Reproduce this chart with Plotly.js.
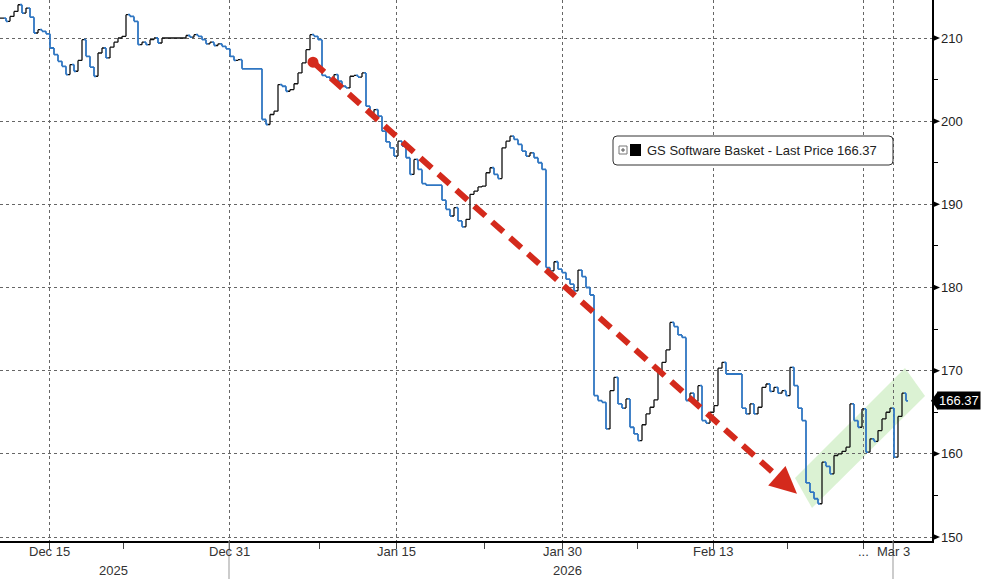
<!DOCTYPE html>
<html><head><meta charset="utf-8">
<script src="https://cdn.plot.ly/plotly-3.0.1.min.js"></script>
<style>html,body{margin:0;padding:0;background:#fff}#chart{width:982px;height:579px}</style>
</head><body><div id="chart"></div>
<script>
// ---------- data ----------
const seriesName = "GS Software Basket - Last Price";
const lastPrice = 166.37;
const closes = [
 212.4,212.0,212.6,213.2,214.0,213.0,213.6,212.5,210.6,211.0,
 210.8,210.5,208.8,208.0,207.2,206.6,205.6,206.8,206.0,207.3,
 209.8,207.8,206.5,205.4,208.2,208.8,207.6,208.9,209.5,210.0,
 210.2,212.8,212.6,212.0,209.2,209.5,209.2,209.8,210.0,209.4,
 210.0,210.0,210.0,210.0,210.0,210.0,210.3,210.1,210.4,210.2,
 209.8,209.3,209.5,209.1,209.3,209.0,208.7,207.8,207.3,207.4,
 206.3,206.3,206.3,206.3,206.3,200.2,199.6,200.8,201.2,204.4,
 204.2,203.6,203.8,204.5,205.8,207.0,208.6,210.4,210.2,209.8,
 205.5,205.3,205.0,205.6,204.8,204.2,204.0,205.4,205.5,205.3,
 205.8,201.8,201.0,201.4,200.6,198.8,197.5,196.8,195.8,197.6,
 197.0,195.6,193.6,195.4,194.2,192.5,192.3,192.3,192.3,192.3,
 190.5,189.4,188.6,189.6,188.0,187.3,188.2,191.2,191.6,192.1,
 192.2,193.8,194.4,193.6,193.1,196.8,197.6,198.2,197.8,197.2,
 196.4,195.8,196.2,195.6,195.0,194.2,182.4,182.0,183.1,182.2,
 181.8,181.0,180.4,179.6,182.1,181.3,180.0,179.1,167.0,166.4,
 166.2,163.0,167.6,169.2,166.0,165.5,166.6,163.2,162.4,161.6,
 163.5,164.8,165.6,166.5,170.0,171.0,172.5,175.8,175.3,174.3,
 174.0,166.4,167.3,166.3,168.2,164.0,163.7,165.0,165.8,170.3,
 171.0,169.6,169.6,169.6,169.6,165.5,164.8,166.0,164.8,165.6,
 168.0,168.4,167.5,168.0,167.3,167.6,167.0,170.4,168.2,165.5,
 164.0,156.5,155.4,154.6,154.0,159.0,158.5,157.6,159.8,160.0,
 160.3,160.8,166.0,164.0,163.2,165.4,160.2,161.8,161.5,162.8,
 164.2,165.0,165.5,159.6,164.5,167.3,166.37
];
const xTickPos  = [11.75, 56.75, 98.5, 140, 177.75, 215.25, 222.75];
const xTickText = ["Dec 15","Dec 31","Jan 15","Jan 30","Feb 13","...","Mar 3"];
const xMinorPos = [30.25, 79.25, 120.5, 158.75, 196.25];
const yearText  = ["2025","2026"];
const yearPos   = [27.75, 141.25];
const yearBreaks = [56.75, 222.75];
const yTickVals = [150,160,170,180,190,200,210];
const yMinorVals = [155,165,175,185,195,205];
const trendStart = [77.75, 207.1];
const trendEnd   = [198.75, 155.2];
const channelX = [198.25, 202.5, 230.75, 225.75];
const channelY = [157.1, 153.49, 166.95, 170.32];

// ---------- geometry helpers ----------
const W = 932, H = 541;
const xr = [-0.5, 232.5], yr = [149.52, 214.57];
const toPx = (x,y)=>[(x-xr[0])/(xr[1]-xr[0])*W, H-(y-yr[0])/(yr[1]-yr[0])*H];
const toData = (px,py)=>[xr[0]+px/W*(xr[1]-xr[0]), yr[0]+(H-py)/H*(yr[1]-yr[0])];
const pp = (px,py)=>[px/W, 1-py/H];

const idx = closes.map((_,i)=>i);
const opens = closes.map((c,i)=> i===0 ? c : closes[i-1]);
const highs = closes.map((c,i)=> Math.max(c, opens[i]));
const lows  = closes.map((c,i)=> Math.min(c, opens[i]));

const red = '#d42a1c';
const blue = '#2f76c2';

const traces = [{
  type:'ohlc', x:idx, open:opens, high:highs, low:lows, close:closes,
  increasing:{line:{color:'#111', width:1.3}},
  decreasing:{line:{color:blue, width:1.8}},
  tickwidth:0.5, hoverinfo:'skip', name:seriesName
}];

const shapes = [];
shapes.push({type:'path', xref:'x', yref:'y', layer:'below',
  path: channelX.map((x,i)=>(i?'L':'M')+x+','+channelY[i]).join(' ')+' Z',
  fillcolor:'rgba(160,220,140,0.38)', line:{width:0}});

const S = toPx(trendStart[0], trendStart[1]);
const T = toPx(trendEnd[0], trendEnd[1]);
const len = Math.hypot(T[0]-S[0], T[1]-S[1]);
const u = [(T[0]-S[0])/len, (T[1]-S[1])/len];
const n = [-u[1], u[0]];
const headLen = 27, headHalf = 13;
const B = [T[0]-u[0]*headLen, T[1]-u[1]*headLen];
const sD = toData(S[0],S[1]), bD = toData(B[0]+u[0]*3, B[1]+u[1]*3);
shapes.push({type:'line', xref:'x', yref:'y', x0:sD[0], y0:sD[1], x1:bD[0], y1:bD[1],
  line:{color:red, width:6, dash:'15px,9px'}});
const h1 = toData(T[0],T[1]), h2 = toData(B[0]+n[0]*headHalf, B[1]+n[1]*headHalf), h3 = toData(B[0]-n[0]*headHalf, B[1]-n[1]*headHalf);
shapes.push({type:'path', xref:'x', yref:'y', path:`M${h1[0]},${h1[1]} L${h2[0]},${h2[1]} L${h3[0]},${h3[1]} Z`,
  fillcolor:red, line:{width:0}});
const c0 = toData(S[0]-5.5, S[1]+5.5), c1 = toData(S[0]+5.5, S[1]-5.5);
shapes.push({type:'circle', xref:'x', yref:'y', x0:c0[0], y0:c0[1], x1:c1[0], y1:c1[1], fillcolor:red, line:{width:0}});

yTickVals.forEach(v=>{
  const py = toPx(0,v)[1];
  const a = pp(932,py-3.5), b = pp(932,py+3.5), c = pp(940,py);
  shapes.push({type:'path', xref:'paper', yref:'paper', path:`M${a[0]},${a[1]} L${c[0]},${c[1]} L${b[0]},${b[1]} Z`, fillcolor:'#000', line:{width:0}});
});

yearBreaks.forEach(x=>{
  shapes.push({type:'line', xref:'x', yref:'paper', x0:x, x1:x, y0:0, y1:-38/H, line:{color:'#999', width:1}});
});

function rrect(x0,y0,x1,y1,r){
  const P=(x,y)=>pp(x,y).join(',');
  return `M${P(x0+r,y0)} L${P(x1-r,y0)} Q${P(x1,y0)} ${P(x1,y0+r)} L${P(x1,y1-r)} Q${P(x1,y1)} ${P(x1-r,y1)} L${P(x0+r,y1)} Q${P(x0,y1)} ${P(x0,y1-r)} L${P(x0,y0+r)} Q${P(x0,y0)} ${P(x0+r,y0)} Z`;
}
shapes.push({type:'path', xref:'paper', yref:'paper', path:rrect(613,136,893,165,4), fillcolor:'#fff', line:{color:'#333', width:1}});
{
  const a=pp(619,146), b=pp(627,154);
  shapes.push({type:'rect', xref:'paper', yref:'paper', x0:a[0], y0:a[1], x1:b[0], y1:b[1], line:{color:'#777', width:1}, fillcolor:'#fff'});
  const h0=pp(621,150), h1b=pp(625,150), v0=pp(623,148), v1=pp(623,152);
  shapes.push({type:'line', xref:'paper', yref:'paper', x0:h0[0], y0:h0[1], x1:h1b[0], y1:h1b[1], line:{color:'#555', width:1}});
  shapes.push({type:'line', xref:'paper', yref:'paper', x0:v0[0], y0:v0[1], x1:v1[0], y1:v1[1], line:{color:'#555', width:1}});
  const s0=pp(630,144), s1=pp(641,156);
  shapes.push({type:'rect', xref:'paper', yref:'paper', x0:s0[0], y0:s0[1], x1:s1[0], y1:s1[1], line:{width:0}, fillcolor:'#000'});
}
{
  const py = toPx(0,lastPrice)[1];
  const a = pp(931,py), b = pp(938,py-9.5), c = pp(938,py+9.5);
  shapes.push({type:'path', xref:'paper', yref:'paper', path:`M${a[0]},${a[1]} L${b[0]},${b[1]} L${c[0]},${c[1]} Z`, fillcolor:'#000', line:{width:0}});
}

const annotations = [];
{
  const lp = pp(645,150.5);
  annotations.push({xref:'paper', yref:'paper', x:lp[0], y:lp[1], xanchor:'left', yanchor:'middle', showarrow:false,
    text: seriesName + ' ' + lastPrice.toFixed(2), font:{size:13, color:'#222'}});
}
annotations.push({xref:'paper', yref:'y', x:937/W, y:lastPrice, xanchor:'left', yanchor:'middle', showarrow:false,
  text:lastPrice.toFixed(2), bgcolor:'#000', font:{size:13, color:'#fff'}, borderpad:1});
xTickText.forEach((t,i)=>{
  annotations.push({xref:'x', yref:'paper', x:xTickPos[i], y:1-551/H, xanchor:'center', yanchor:'middle', showarrow:false,
    text:t, font:{size:13, color:'#333'}});
});
yearText.forEach((t,i)=>{
  annotations.push({xref:'x', yref:'paper', x:yearPos[i], y:1-570/H, xanchor:'center', yanchor:'middle', showarrow:false,
    text:t, font:{size:13, color:'#333'}});
});

const layout = {
  width:982, height:579, margin:{l:0, r:50, t:0, b:38},
  paper_bgcolor:'#fff', plot_bgcolor:'#fff', showlegend:false,
  font:{family:'"Liberation Sans", Arial, sans-serif', size:13, color:'#222'},
  xaxis:{range:xr, tickvals:xTickPos, ticktext:xTickText, showticklabels:false, ticks:'outside', ticklen:6, tickcolor:'#444', tickwidth:1,
    showline:true, linecolor:'#000', linewidth:1.5, showgrid:true, gridcolor:'#666', griddash:'dot', gridwidth:1,
    zeroline:false, rangeslider:{visible:false}, fixedrange:true,
    minor:{tickvals:xMinorPos, ticks:'outside', ticklen:6, tickcolor:'#444', showgrid:false}},
  yaxis:{side:'right', range:yr, tickvals:yTickVals, ticks:'', showline:true, linecolor:'#000', linewidth:1.5,
    showgrid:true, gridcolor:'#666', griddash:'dot', gridwidth:1, zeroline:false, fixedrange:true,
    ticklabelstandoff:5, tickfont:{size:13, color:'#222'},
    minor:{tickvals:yMinorVals, ticks:'outside', ticklen:4, tickcolor:'#000', showgrid:false}},
  shapes, annotations
};

Plotly.newPlot('chart', traces, layout, {displayModeBar:false, staticPlot:true});
</script></body></html>
